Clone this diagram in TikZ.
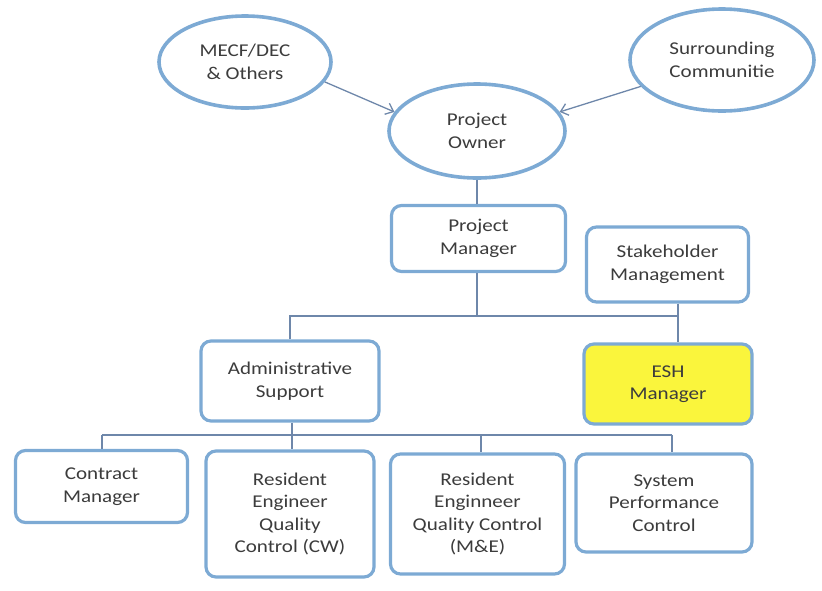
\documentclass[tikz,border=0pt]{standalone}
\usepackage{fontspec}
\setmainfont[FakeStretch=1.17]{Carlito}
\usetikzlibrary{shapes.geometric,arrows.meta}
\definecolor{bordblue}{RGB}{125,170,212}
\definecolor{linkblue}{RGB}{110,135,170}
\definecolor{eshyellow}{RGB}{250,245,60}
\definecolor{txt}{RGB}{60,60,60}
\tikzset{
  oval/.style={ellipse,draw=bordblue,line width=3.6pt,fill=white,align=center,font=\fontsize{18}{22.5}\selectfont,text=txt},
  orgbox/.style={rectangle,rounded corners=10pt,draw=bordblue,line width=3.2pt,fill=white,align=center,font=\fontsize{18}{22.5}\selectfont,text=txt},
  link/.style={draw=linkblue,line width=1.3pt},
  arr/.style={link,-{Straight Barb[length=7pt,width=12pt]}}
}
\begin{document}
\begin{tikzpicture}[x=1pt,y=-1pt]
\useasboundingbox (0,0) rectangle (822,590);
% ellipses
\node[oval,minimum width=172pt,minimum height=92pt,inner sep=0pt] (mecf) at (245,62) {MECF/DEC\\\& Others};
\node[oval,minimum width=184pt,minimum height=102pt,inner sep=0pt] (surr) at (722,60) {Surrounding\\Communitie};
\node[oval,minimum width=176pt,minimum height=94pt,inner sep=0pt] (owner) at (477,131) {Project\\Owner};
% boxes
\node[orgbox,minimum width=174pt,minimum height=66pt] (pm) at (478.5,238.5) {Project\\Manager};
\node[orgbox,minimum width=162pt,minimum height=75pt] (stake) at (667.5,264.5) {Stakeholder\\Management};
\node[orgbox,minimum width=178pt,minimum height=80pt] (admin) at (290,381) {Administrative\\Support};
\node[orgbox,fill=eshyellow,minimum width=168pt,minimum height=80pt] (esh) at (668,384) {ESH\\Manager};
\node[orgbox,minimum width=172pt,minimum height=72pt] (cm) at (101.5,486.5) {Contract\\Manager};
\node[orgbox,minimum width=168pt,minimum height=126pt] (recw) at (290,514) {Resident\\Engineer\\Quality\\Control (CW)};
\node[orgbox,minimum width=174pt,minimum height=120pt] (reme) at (477.5,514) {Resident\\Enginneer\\Quality Control\\(M\&E)};
\node[orgbox,minimum width=176pt,minimum height=98pt] (spc) at (664,503) {System\\Performance\\Control};
% junctions
\coordinate (b1) at (477,316);
\coordinate (sr) at (678,316);
\coordinate (b2) at (292,435);
\coordinate (d1) at (102,435);
\coordinate (d3) at (481,435);
\coordinate (d4) at (672,435);
% connectors
\draw[arr] (mecf.-14) -- (owner.167);
\draw[arr] (surr.-162) -- (owner.13);
\draw[link] (owner.south) -- (owner.south |- pm.north);
\draw[link] (pm.south -| b1) -- (b1);
\draw[link] (admin.north) |- (sr);
\draw[link] (sr |- stake.south) -- (sr |- esh.north);
\draw[link] (b2 |- admin.south) -- (b2);
\draw[link] (d1) -- (d4);
\draw[link] (d1) -- (d1 |- cm.north);
\draw[link] (b2) -- (b2 |- recw.north);
\draw[link] (d3) -- (d3 |- reme.north);
\draw[link] (d4) -- (d4 |- spc.north);
\end{tikzpicture}
\end{document}
